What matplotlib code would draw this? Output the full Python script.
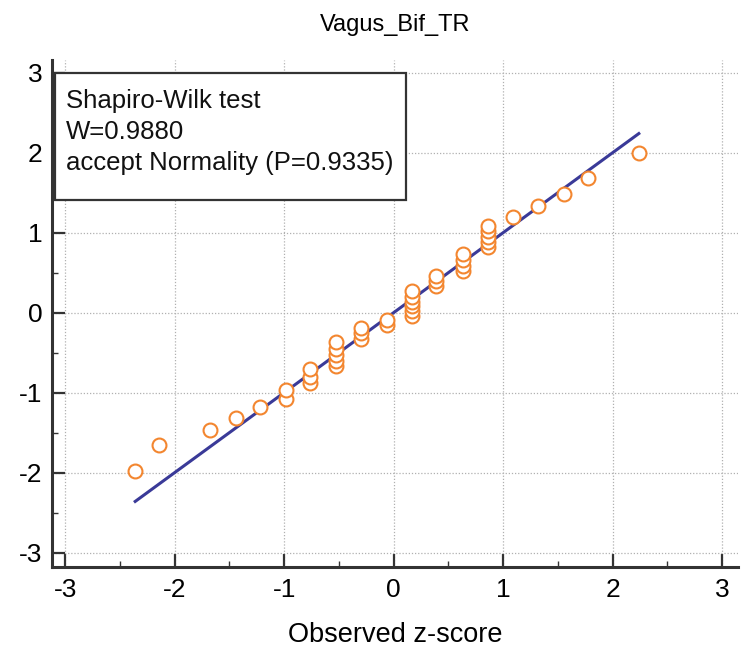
import matplotlib
matplotlib.use("Agg")
import matplotlib.pyplot as plt
from matplotlib.patches import Rectangle
from matplotlib.ticker import MultipleLocator

plt.rcParams['font.family'] = ['Liberation Sans', 'DejaVu Sans']
plt.rcParams['axes.unicode_minus'] = False

title = "Vagus_Bif_TR"
x_label = "Observed z-score"
box_lines = ["Shapiro-Wilk test", "W=0.9880", "accept Normality (P=0.9335)"]

# observed z-scores (x) and expected normal quantiles (y)
observed = [-2.36, -2.14, -1.675, -1.44, -1.22,
            -0.985, -0.985,
            -0.76, -0.76, -0.76,
            -0.53, -0.53, -0.53, -0.53, -0.53,
            -0.30, -0.30, -0.30,
            -0.06, -0.06,
            0.17, 0.17, 0.17, 0.17, 0.17, 0.17,
            0.39, 0.39, 0.39,
            0.63, 0.63, 0.63, 0.63,
            0.86, 0.86, 0.86, 0.86, 0.86,
            1.09, 1.32, 1.56, 1.78, 2.24]
expected = [-1.98, -1.66, -1.47, -1.32, -1.18,
            -1.08, -0.97,
            -0.88, -0.80, -0.71,
            -0.67, -0.60, -0.53, -0.45, -0.37,
            -0.33, -0.26, -0.19,
            -0.16, -0.09,
            -0.04, 0.02, 0.08, 0.14, 0.20, 0.27,
            0.33, 0.40, 0.46,
            0.52, 0.59, 0.66, 0.73,
            0.82, 0.88, 0.95, 1.02, 1.09,
            1.20, 1.33, 1.48, 1.68, 2.00]
ticks = [-3, -2, -1, 0, 1, 2, 3]

W, H = 750, 670
fig = plt.figure(figsize=(7.5, 6.7), dpi=100)
L, R, T, B = 52, 738, 60, 567
ax = fig.add_axes([L / W, 1 - B / H, (R - L) / W, (B - T) / H])

ax.set_xlim(-3.12, 3.146)
ax.set_ylim(-3.18, 3.16)

ax.grid(True, which='major', color='#b0b0b0', linestyle=(0, (1, 1.5)), linewidth=0.9)
ax.set_axisbelow(True)

# reference line y = x over observed range
lo, hi = min(observed), max(observed)
ax.plot([lo, hi], [lo, hi], color='#3a3a98', linewidth=2.2, zorder=2)

ax.plot(observed, expected, linestyle='none', marker='o', markersize=10,
        markerfacecolor='white', markeredgecolor='#f3862f', markeredgewidth=1.5, zorder=3)

for s in ['top', 'right']:
    ax.spines[s].set_visible(False)
for s in ['left', 'bottom']:
    ax.spines[s].set_color('#333333')
    ax.spines[s].set_linewidth(2.2)

ax.set_xticks(ticks)
ax.set_yticks(ticks)
ax.xaxis.set_minor_locator(MultipleLocator(0.5))
ax.yaxis.set_minor_locator(MultipleLocator(0.5))
ax.tick_params(which='major', direction='in', length=9.5, width=1.6, color='#333333',
               labelsize=19, pad=8)
ax.tick_params(which='minor', direction='in', length=4.5, width=1.0, color='#333333')
ax.tick_params(axis='y', which='major', pad=7)

ax.set_xlabel(x_label, fontsize=19.5, labelpad=14)
ax.set_title(title, fontsize=17, pad=21)

# annotation box
ax.add_patch(Rectangle((0.0044, 0.724), 0.511, 0.25, transform=ax.transAxes,
                       facecolor='white', edgecolor='#333333', linewidth=1.6, zorder=4))
for txt, yy in zip(box_lines, [0.919, 0.858, 0.797]):
    ax.text(0.0204, yy, txt, transform=ax.transAxes, fontsize=18.5,
            va='center', ha='left', color='#111111', zorder=5)

fig.savefig("out.png", dpi=100)
